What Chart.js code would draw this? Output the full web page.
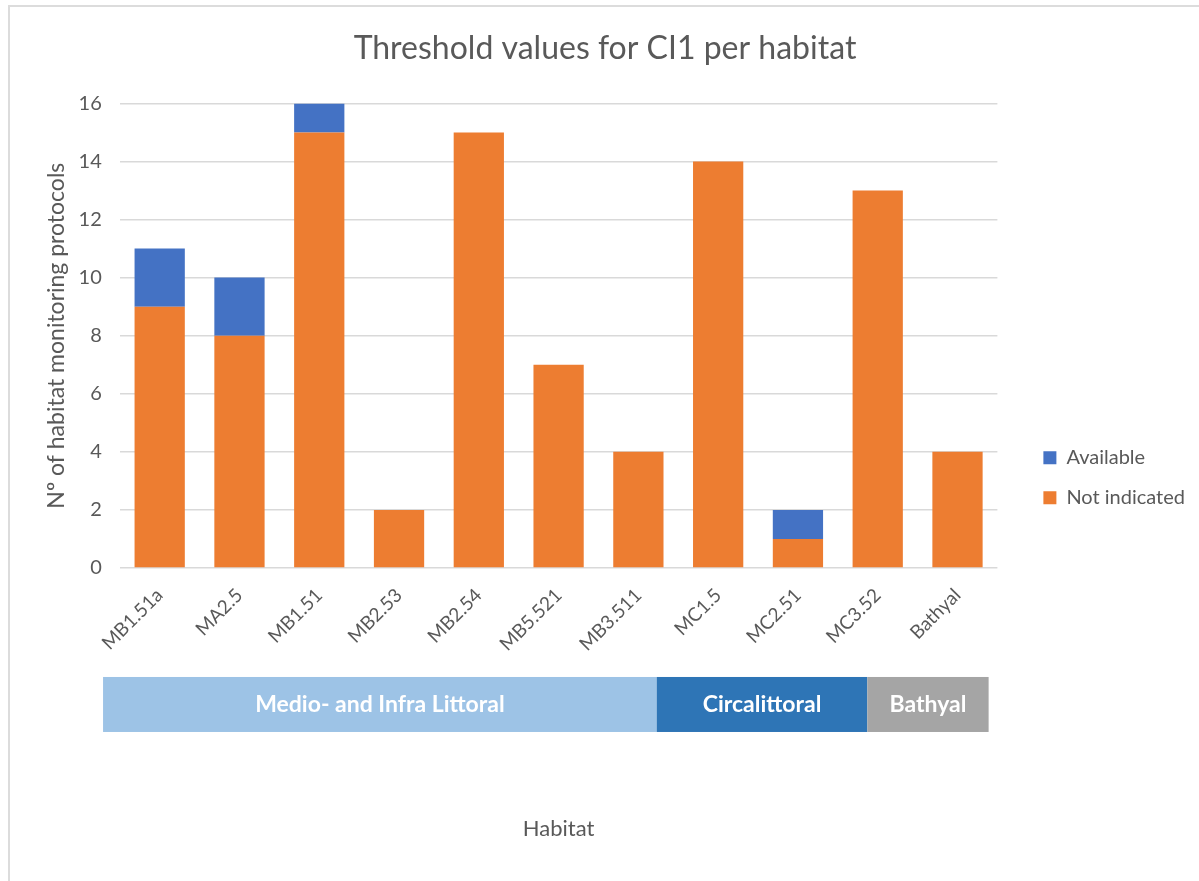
<!DOCTYPE html>
<html>
<head>
<meta charset="utf-8">
<title>Threshold values for CI1 per habitat</title>
<script src="https://cdn.jsdelivr.net/npm/chart.js@4.4.0/dist/chart.umd.min.js"></script>
<style>
  html, body { margin: 0; padding: 0; background: #fff; }
  #wrap { width: 1199px; height: 881px; position: relative; }
</style>
</head>
<body>
<div id="wrap"><canvas id="habitatChart"></canvas></div>
<script>
const HABITATS = ['MB1.51a', 'MA2.5', 'MB1.51', 'MB2.53', 'MB2.54', 'MB5.521', 'MB3.511', 'MC1.5', 'MC2.51', 'MC3.52', 'Bathyal'];
const NOT_INDICATED = [9, 8, 15, 2, 15, 7, 4, 14, 1, 13, 4];
const AVAILABLE = [2, 2, 1, 0, 0, 0, 0, 0, 1, 0, 0];
const ZONES = ['Medio- and Infra Littoral', 'Circalittoral', 'Bathyal'];
const Y_MAX = 16;
const Y_STEP = 2;

const TEXT = '#595959';
const GRID = '#d9d9d9';
Chart.defaults.font.family = "Lato, 'Open Sans', sans-serif";

// thin frame along the top and left edge
const frame = {
  id: 'frame',
  beforeDraw(chart) {
    const ctx = chart.ctx;
    ctx.save();
    ctx.strokeStyle = '#dcdcdc';
    ctx.lineWidth = 2;
    ctx.beginPath();
    ctx.moveTo(9, chart.height);
    ctx.lineTo(9, 6);
    ctx.lineTo(chart.width, 6);
    ctx.stroke();
    ctx.restore();
  }
};

// coloured zone band under the category labels
const zoneBand = {
  id: 'zoneBand',
  afterDraw(chart, args, opts) {
    const ctx = chart.ctx;
    const x = chart.scales.x;
    const top = chart.chartArea.bottom + opts.offset;
    ctx.save();
    ZONES.forEach((name, i) => {
      const x0 = x.getPixelForValue(opts.edges[i]);
      const x1 = x.getPixelForValue(opts.edges[i + 1]);
      ctx.fillStyle = opts.colors[i];
      ctx.fillRect(x0, top, x1 - x0, opts.height);
      ctx.fillStyle = '#fff';
      ctx.font = "bold 23px Lato, 'Open Sans', sans-serif";
      ctx.textAlign = 'center';
      ctx.textBaseline = 'middle';
      ctx.fillText(name, (x0 + x1) / 2, top + opts.height / 2);
    });
    ctx.restore();
  }
};

new Chart(document.getElementById('habitatChart'), {
  type: 'bar',
  data: {
    labels: HABITATS,
    datasets: [{
      label: 'Not indicated',
      data: NOT_INDICATED,
      backgroundColor: '#ED7D31',
      barPercentage: 0.63,
      categoryPercentage: 1
    }, {
      label: 'Available',
      data: AVAILABLE,
      backgroundColor: '#4472C4',
      barPercentage: 0.63,
      categoryPercentage: 1
    }]
  },
  plugins: [frame, zoneBand],
  options: {
    responsive: true,
    maintainAspectRatio: false,
    animation: false,
    layout: { padding: { left: 15, right: 4, top: 0, bottom: 0 } },
    plugins: {
      title: {
        display: true,
        text: 'Threshold values for CI1 per habitat',
        color: TEXT,
        font: { size: 32, weight: 'normal' },
        padding: { top: 29, bottom: 36 }
      },
      legend: {
        position: 'right',
        reverse: true,
        title: { display: true, text: '', padding: { top: 60, bottom: 0 } },
        labels: {
          color: TEXT,
          boxWidth: 13,
          boxHeight: 13,
          padding: 20,
          font: { size: 20 }
        }
      },
      tooltip: { enabled: false },
      zoneBand: {
        edges: [-0.71, 6.23, 8.87, 10.39],
        colors: ['#9DC3E6', '#2E75B6', '#A5A5A5'],
        offset: 109,
        height: 55
      }
    },
    scales: {
      x: {
        stacked: true,
        grid: { display: false },
        border: { display: false },
        ticks: { color: TEXT, font: { size: 19 }, maxRotation: 45, minRotation: 45, padding: 8 },
        title: {
          display: true,
          text: 'Habitat',
          color: TEXT,
          font: { size: 22 },
          padding: { top: 152, bottom: 39 }
        }
      },
      y: {
        stacked: true,
        min: 0,
        max: Y_MAX,
        grid: { color: GRID, lineWidth: 1.5, drawTicks: false },
        border: { display: false },
        ticks: { stepSize: Y_STEP, color: TEXT, font: { size: 20 }, padding: 18 },
        title: {
          display: true,
          text: 'Nº of habitat monitoring protocols',
          color: TEXT,
          font: { size: 23 },
          padding: { top: 28, bottom: -10 }
        }
      },
      gap: {
        type: 'linear',
        position: 'right',
        display: true,
        grid: { display: false },
        border: { display: false },
        ticks: { display: false },
        afterFit(scale) { scale.width = 26; }
      }
    }
  }
});
</script>
</body>
</html>
